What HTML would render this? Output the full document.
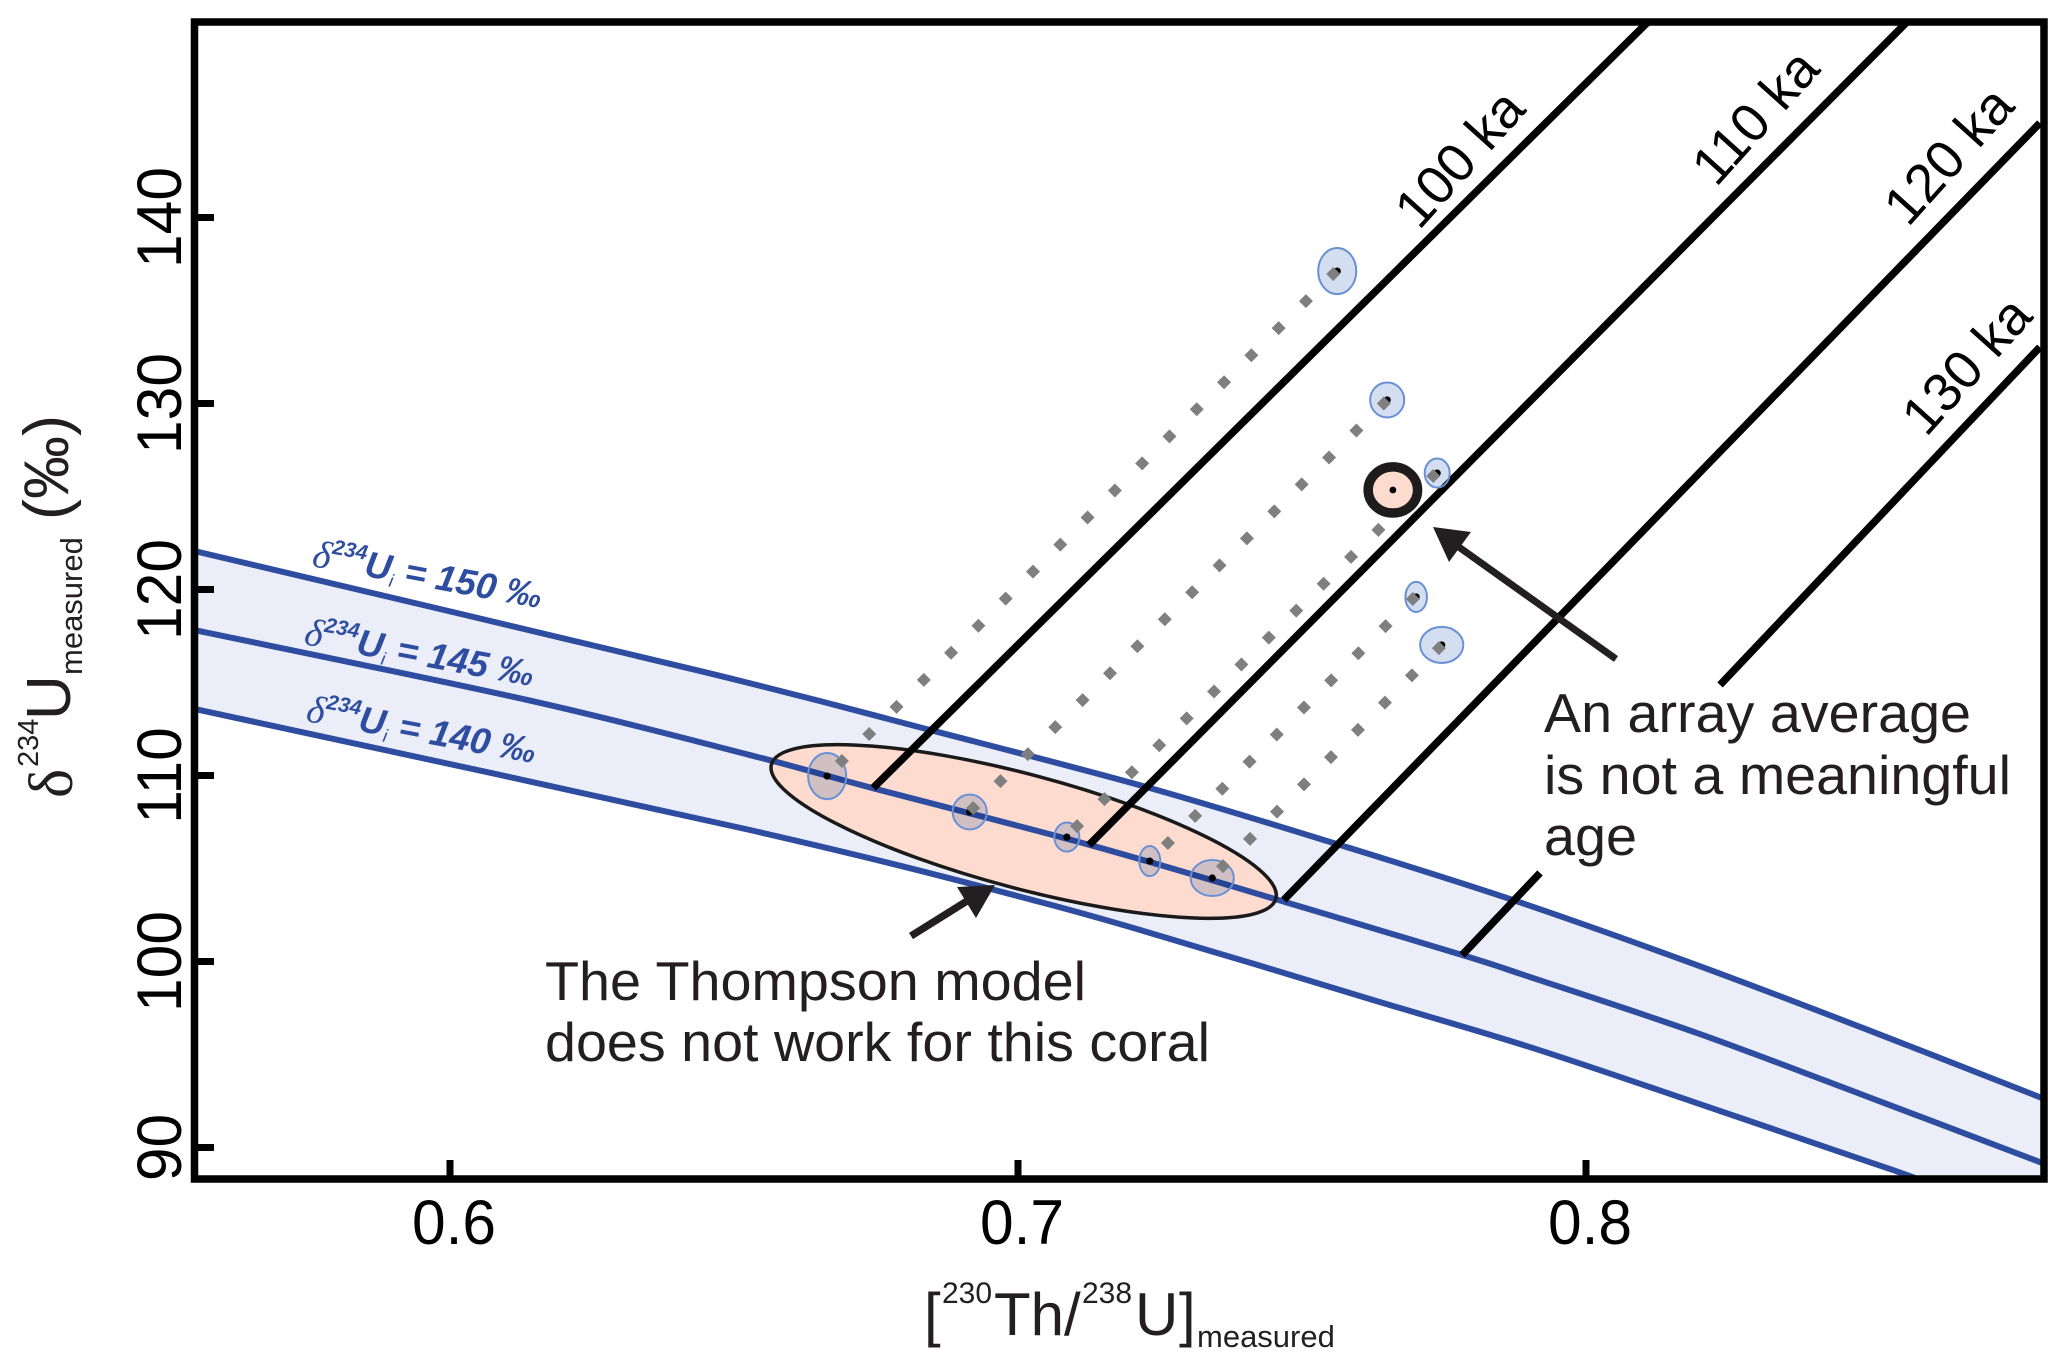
<!DOCTYPE html>
<html lang="en">
<head>
<meta charset="utf-8">
<title>Uranium-thorium isochron chart</title>
<style>
html,body{margin:0;padding:0;background:#fff;}
#chart{display:block;width:2067px;height:1365px;}
text{font-family:"Liberation Sans",sans-serif;}
.ann{fill:#231f20;font-size:55px;}
.blue{fill:#2e4da0;font-size:36.5px;font-weight:bold;font-style:italic;}
.title{fill:#231f20;}
.delta{font-family:"Liberation Serif",serif;}
</style>
</head>
<body>
<svg id="chart" xmlns="http://www.w3.org/2000/svg" width="2067" height="1365" viewBox="0 0 2067 1365">
  <defs>
    <clipPath id="plot-clip"><rect x="194.5" y="22" width="1849.5" height="1157"/></clipPath>
  </defs>
  <rect x="0" y="0" width="2067" height="1365" fill="#fff"/>
  <g id="plot" clip-path="url(#plot-clip)"></g>
  <rect x="194.5" y="22" width="1849.5" height="1157" fill="none" stroke="#000" stroke-width="7.5"/>
  <g id="axes"></g>

  <g>
    <line x1="911" y1="936" x2="975" y2="896" stroke="#231f20" stroke-width="7.5"/>
    <polygon points="995,885 957,887 976,918" fill="#231f20"/>
  </g>
  <g>
    <line x1="1616" y1="659" x2="1456" y2="545" stroke="#231f20" stroke-width="7"/>
    <polygon points="1433,527 1471,532 1449,562" fill="#231f20"/>
  </g>

  <text class="ann" x="545" y="1000" textLength="541" lengthAdjust="spacingAndGlyphs">The Thompson model</text>
  <text class="ann" x="545" y="1061" textLength="665" lengthAdjust="spacingAndGlyphs">does not work for this coral</text>
  <text class="ann" x="1544" y="732" textLength="427" lengthAdjust="spacingAndGlyphs">An array average</text>
  <text class="ann" x="1544" y="794" textLength="467" lengthAdjust="spacingAndGlyphs">is not a meaningful</text>
  <text class="ann" x="1544" y="855" textLength="93" lengthAdjust="spacingAndGlyphs">age</text>

  <g fill="#000" font-size="54">
    <text transform="translate(1419 231) rotate(-48)">100 ka</text>
    <text transform="translate(1716 188) rotate(-48)">110 ka</text>
    <text transform="translate(1908 228) rotate(-48)">120 ka</text>
    <text transform="translate(1926 438) rotate(-48)">130 ka</text>
  </g>

  <text class="blue" transform="translate(311 566) rotate(10.5)"><tspan class="delta" font-size="39" font-weight="normal">δ</tspan><tspan font-size="21" dy="-16">234</tspan><tspan dy="16">U</tspan><tspan font-size="18" font-weight="normal" dy="6">i</tspan><tspan dy="-6" xml:space="preserve"> = 150 ‰</tspan></text>
  <text class="blue" transform="translate(303 644) rotate(10.5)"><tspan class="delta" font-size="39" font-weight="normal">δ</tspan><tspan font-size="21" dy="-16">234</tspan><tspan dy="16">U</tspan><tspan font-size="18" font-weight="normal" dy="6">i</tspan><tspan dy="-6" xml:space="preserve"> = 145 ‰</tspan></text>
  <text class="blue" transform="translate(305 721) rotate(10.5)"><tspan class="delta" font-size="39" font-weight="normal">δ</tspan><tspan font-size="21" dy="-16">234</tspan><tspan dy="16">U</tspan><tspan font-size="18" font-weight="normal" dy="6">i</tspan><tspan dy="-6" xml:space="preserve"> = 140 ‰</tspan></text>

  <g class="title" transform="translate(0 798) rotate(-90)">
    <text class="delta title" x="0" y="72" font-size="62">δ</text>
    <text class="title" x="31" y="38" font-size="29">234</text>
    <text class="title" x="78" y="70" font-size="62">U</text>
    <text class="title" x="123" y="82" font-size="31">measured</text>
    <text class="title" x="278" y="68" font-size="63">(‰)</text>
  </g>
  <g>
    <text class="title" x="924" y="1335" font-size="60">[</text>
    <text class="title" x="942" y="1303" font-size="30">230</text>
    <text class="title" x="994" y="1335" font-size="60">Th/</text>
    <text class="title" x="1082" y="1303" font-size="30">238</text>
    <text class="title" x="1135" y="1335" font-size="60">U</text>
    <text class="title" x="1179" y="1335" font-size="60">]</text>
    <text class="title" x="1197" y="1347" font-size="31">measured</text>
  </g>

  <script>
    // Axis ticks
    const xTickValues = [0.6, 0.7, 0.8];
    const xTickLabels = ['0.6', '0.7', '0.8'];
    const yTickValues = [90, 100, 110, 120, 130, 140];
    const yTickLabels = ['90', '100', '110', '120', '130', '140'];

    // Initial delta-234-U evolution curves
    const curve150X = [0.555, 0.644, 0.6845, 0.7232, 0.7567, 0.7871, 0.8195, 0.8488, 0.8803, 0.8817];
    const curve150Y = [122.07, 115.62, 112.45, 109.33, 106.26, 103.31, 99.81, 96.42, 92.66, 92.47];
    const curve145X = [0.555, 0.6136, 0.6528, 0.6743, 0.7127, 0.747, 0.7782, 0.7901, 0.8195, 0.8488, 0.8803, 0.8817];
    const curve145Y = [117.82, 114.06, 111.1, 109.33, 106.26, 103.2, 100.35, 99.17, 96.16, 92.82, 89.17, 88.98];
    const curve140X = [0.555, 0.6528, 0.7039, 0.7333, 0.7625, 0.7901, 0.8195, 0.8488, 0.8576, 0.8817];
    const curve140Y = [113.58, 107.07, 103.2, 100.62, 97.93, 95.4, 92.39, 89.33, 88.4, 85.67];

    // Age isochrons (first and last point of each drawn segment)
    const isochron100X = [0.6745, 0.8109];
    const isochron100Y = [109.33, 150.51];
    const isochron110X = [0.7125, 0.8565];
    const isochron110Y = [106.26, 150.51];
    const isochron120X = [0.7468, 0.8799];
    const isochron120Y = [103.31, 145.08];
    const isochron130LowerX = [0.7782, 0.7919];
    const isochron130LowerY = [100.35, 104.76];
    const isochron130UpperX = [0.8236, 0.8799];
    const isochron130UpperY = [114.87, 133.03];

    // Coral sample measurements with uncertainties
    const sampleX = [0.7562, 0.765, 0.7738, 0.7701, 0.7746, 0.6664, 0.6915, 0.7086, 0.7232, 0.7342];
    const sampleY = [137.12, 130.19, 126.26, 119.6, 117.02, 109.97, 108.04, 106.69, 105.4, 104.49];
    const sampleErrX = [0.00335, 0.003, 0.0022, 0.0019, 0.0038, 0.00335, 0.003, 0.0022, 0.00185, 0.0038];
    const sampleErrY = [1.24, 0.94, 0.78, 0.81, 0.97, 1.24, 0.94, 0.78, 0.81, 0.97];

    // Sample the array average points to: highlighted measurement
    const highlightX = 0.766;
    const highlightY = 125.35;
    const highlightErrX = 0.00435;
    const highlightErrY = 1.24;

    // Thompson model array ellipse
    const modelCenterX = 0.701;
    const modelCenterY = 106.99;

    // Dotted open-system trajectories: start, end and number of markers
    const trajectoryStartX = [0.7555, 0.7644, 0.7731, 0.7695, 0.7741];
    const trajectoryStartY = [136.96, 130.0, 126.1, 119.49, 116.85];
    const trajectoryEndX = [0.669, 0.6921, 0.7104, 0.7264, 0.7361];
    const trajectoryEndY = [110.78, 108.25, 107.28, 106.37, 105.13];
    const trajectoryCounts = [19, 16, 14, 10, 9];

    const NS = 'http://www.w3.org/2000/svg';
    const xPx = v => 450 + (v - 0.6) * 5680;
    const yPx = v => 217.5 + (140 - v) * 18.6;
    const plot = document.getElementById('plot');
    const axes = document.getElementById('axes');

    function make(tag, props, parent) {
      const el = document.createElementNS(NS, tag);
      Object.keys(props).forEach(k => el.setAttribute(k, props[k]));
      parent.appendChild(el);
      return el;
    }

    function smoothPath(xs, ys) {
      const pts = xs.map((x, i) => [xPx(x), yPx(ys[i])]);
      let d = 'M' + pts[0][0] + ' ' + pts[0][1];
      for (let i = 0; i < pts.length - 1; i++) {
        const p0 = pts[Math.max(i - 1, 0)];
        const p1 = pts[i];
        const p2 = pts[i + 1];
        const p3 = pts[Math.min(i + 2, pts.length - 1)];
        d += 'C' + (p1[0] + (p2[0] - p0[0]) / 6) + ' ' + (p1[1] + (p2[1] - p0[1]) / 6) + ' ' +
             (p2[0] - (p3[0] - p1[0]) / 6) + ' ' + (p2[1] - (p3[1] - p1[1]) / 6) + ' ' + p2[0] + ' ' + p2[1];
      }
      return d;
    }

    function reversedLine(xs, ys) {
      let d = '';
      for (let i = xs.length - 1; i >= 0; i--) {
        d += 'L' + xPx(xs[i]) + ' ' + yPx(ys[i]);
      }
      return d;
    }

    // Band between the 150 and 140 curves
    const band = make('path', { d: smoothPath(curve150X, curve150Y) + reversedLine(curve140X, curve140Y) + 'Z', fill: '#ebeef8' }, plot);
    
    

    const curveStyle = { fill: 'none', stroke: '#2e4da0', 'stroke-width': 6 };

    const line150 = make('path', Object.assign({ d: smoothPath(curve150X, curve150Y) }, curveStyle), plot);
    
    

    const line140 = make('path', Object.assign({ d: smoothPath(curve140X, curve140Y) }, curveStyle), plot);
    
    

    // Thompson ellipse: fill sits under the 145 curve, outline above it
    const ellipseShape = {
      cx: xPx(modelCenterX), cy: yPx(modelCenterY), rx: 261, ry: 57,
      transform: 'rotate(14.9 ' + xPx(modelCenterX) + ' ' + yPx(modelCenterY) + ')'
    };
    const modelFill = make('ellipse', Object.assign({ fill: '#fddccf' }, ellipseShape), plot);
    
    

    const line145 = make('path', Object.assign({ d: smoothPath(curve145X, curve145Y) }, curveStyle), plot);
    
    

    const modelOutline = make('ellipse', Object.assign({ fill: 'none', stroke: '#1a1a1a', 'stroke-width': 3.5 }, ellipseShape), plot);
    
    

    // Isochrons
    function isochron(xs, ys) {
      return make('line', {
        x1: xPx(xs[0]), y1: yPx(ys[0]), x2: xPx(xs[1]), y2: yPx(ys[1]),
        stroke: '#000', 'stroke-width': 7.5
      }, plot);
    }
    const iso100 = isochron(isochron100X, isochron100Y);
    
    
    const iso110 = isochron(isochron110X, isochron110Y);
    
    
    const iso120 = isochron(isochron120X, isochron120Y);
    
    
    const iso130a = isochron(isochron130LowerX, isochron130LowerY);
    
    
    const iso130b = isochron(isochron130UpperX, isochron130UpperY);
    
    

    // Sample error ellipses: blended fill, then a crisp outline
    sampleX.forEach((v, i) => {
      const ell = make('ellipse', {
        cx: xPx(v), cy: yPx(sampleY[i]),
        rx: sampleErrX[i] * 5680, ry: sampleErrY[i] * 18.6,
        fill: '#d3dff0',
        style: 'mix-blend-mode:multiply'
      }, plot);
      
      
      const outline = make('ellipse', {
        cx: xPx(v), cy: yPx(sampleY[i]),
        rx: sampleErrX[i] * 5680, ry: sampleErrY[i] * 18.6,
        fill: 'none', stroke: '#6a90d4', 'stroke-width': 2
      }, plot);
      
      
    });

    // Sample centre points
    sampleX.forEach((v, i) => {
      const dot = make('circle', { cx: xPx(v), cy: yPx(sampleY[i]), r: 3.6, fill: '#000' }, plot);
      
      
    });

    // Diamond markers along the dotted trajectories
    trajectoryCounts.forEach((n, t) => {
      const group = make('g', { fill: '#7f7f7f' }, plot);
      
      
      for (let k = 0; k < n; k++) {
        const f = k / (n - 1);
        const cx = xPx(trajectoryStartX[t] + (trajectoryEndX[t] - trajectoryStartX[t]) * f);
        const cy = yPx(trajectoryStartY[t] + (trajectoryEndY[t] - trajectoryStartY[t]) * f);
        const s = 7;
        const diamond = make('polygon', {
          points: cx + ',' + (cy - s) + ' ' + (cx + s) + ',' + cy + ' ' + cx + ',' + (cy + s) + ' ' + (cx - s) + ',' + cy
        }, group);
        
        
      }
    });

    // Highlighted sample (thick black ring)
    const ring = make('ellipse', {
      cx: xPx(highlightX), cy: yPx(highlightY),
      rx: highlightErrX * 5680, ry: highlightErrY * 18.6,
      fill: '#fddccf', stroke: '#1d1b1b', 'stroke-width': 9.5
    }, plot);
    
    
    const ringDot = make('circle', { cx: xPx(highlightX), cy: yPx(highlightY), r: 3.4, fill: '#000' }, plot);
    
    

    // X axis
    xTickValues.forEach((v, i) => {
      const tick = make('line', { x1: xPx(v), x2: xPx(v), y1: 1160, y2: 1179, stroke: '#000', 'stroke-width': 7 }, axes);
      
      
      const label = make('text', {
        'text-anchor': 'middle', 'font-size': 63, fill: '#000',
        transform: 'translate(' + (xPx(v) + 4) + ' 1244) scale(0.96 1)'
      }, axes);
      label.textContent = xTickLabels[i];
      
      
    });

    // Y axis
    yTickValues.forEach((v, i) => {
      const tick = make('line', { x1: 194.5, x2: 214, y1: yPx(v), y2: yPx(v), stroke: '#000', 'stroke-width': 7 }, axes);
      
      
      const label = make('text', {
        'text-anchor': 'middle', 'font-size': 63, fill: '#000',
        transform: 'translate(181 ' + yPx(v) + ') rotate(-90) scale(0.96 1)'
      }, axes);
      label.textContent = yTickLabels[i];
      
      
    });
  </script>
</svg>
</body>
</html>
